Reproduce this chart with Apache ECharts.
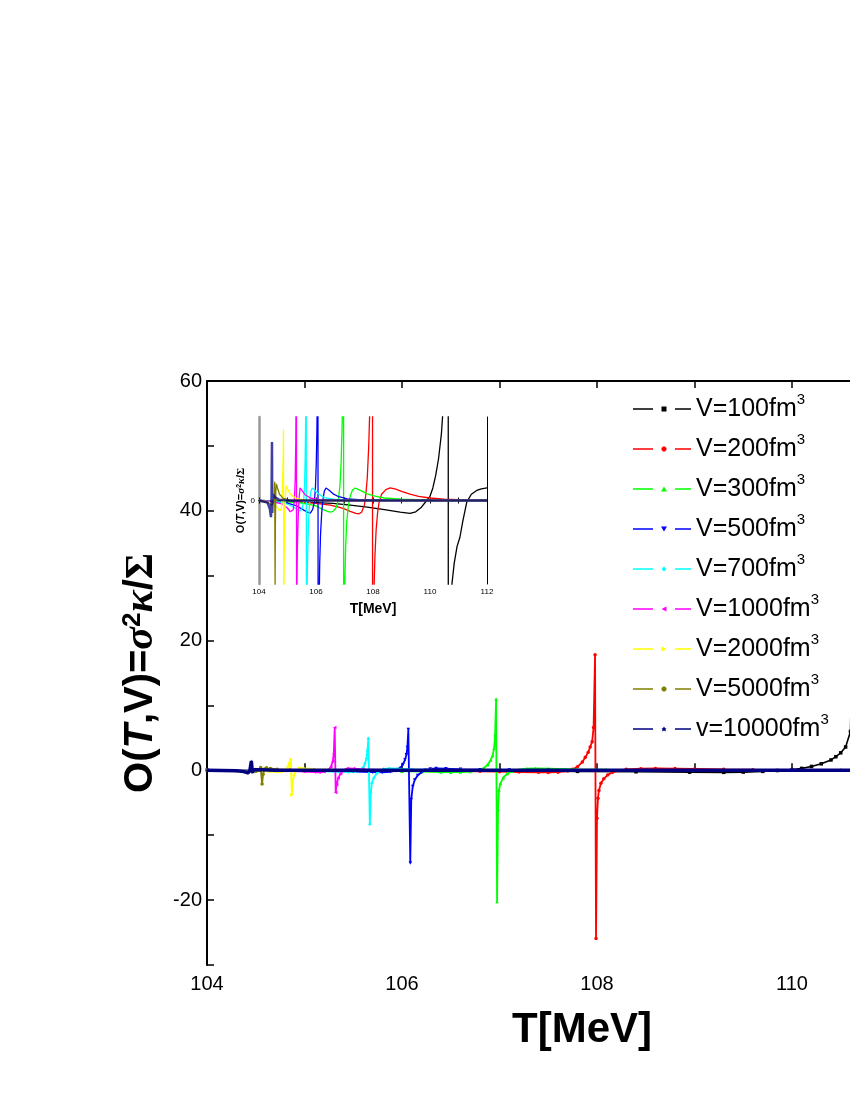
<!DOCTYPE html>
<html><head><meta charset="utf-8">
<script src="https://cdn.jsdelivr.net/npm/echarts@6/dist/echarts.min.js"></script>
<style>html,body{margin:0;padding:0;background:#fff}#c{width:850px;height:1100px}</style>
</head><body><div id="c"></div>
<script>
// ---- data: [T (MeV), O(T,V)] ----
const V100 = [[104.0,0],[104.5,-0.01],[105.0,-0.02],[105.5,-0.04],[106.0,-0.05],[106.6,-0.07],[107.2,-0.11],[107.8,-0.16],[108.4,-0.22],[108.95,-0.28],[109.3,-0.31],[109.5,-0.27],[109.7,-0.16],[109.85,-0.03],[110.0,0.1],[110.1,0.3],[110.2,0.6],[110.3,1.0],[110.4,1.6],[110.45,2.1],[110.5,2.7],[110.55,3.6],[110.6,6.0],[110.63,30],[110.65,-25],[110.68,-8],[110.72,-3.5],[110.77,-2.0],[110.85,-1.5],[110.95,-1.1],[111.05,-0.88],[111.15,-0.5],[111.29,-0.04],[111.45,0.15],[111.64,0.24],[111.8,0.28],[112.0,0.3]];
const V200 = [[104.0,0],[104.5,-0.01],[105.0,-0.02],[105.5,-0.04],[106.0,-0.07],[106.5,-0.11],[106.8,-0.16],[107.0,-0.2],[107.2,-0.26],[107.4,-0.31],[107.5,-0.32],[107.6,-0.28],[107.7,-0.1],[107.75,0.15],[107.8,0.55],[107.85,1.3],[107.88,2.0],[107.91,2.8],[107.93,3.6],[107.95,4.4],[107.965,6.6],[107.98,17.8],[107.99,-25.9],[108.0,-7.4],[108.01,-4.3],[108.02,-3.1],[108.04,-2.0],[108.07,-1.3],[108.11,-0.7],[108.16,-0.3],[108.21,-0.05],[108.3,0.15],[108.45,0.26],[108.6,0.3],[108.8,0.27],[109.0,0.22],[109.3,0.15],[109.6,0.1],[110.0,0.06],[110.5,0.03],[111.0,0.02],[111.5,0.01],[112.0,0.01]];
const V300 = [[104.0,0],[104.5,-0.01],[105.0,-0.03],[105.5,-0.06],[105.8,-0.1],[106.0,-0.13],[106.2,-0.2],[106.4,-0.26],[106.5,-0.28],[106.6,-0.26],[106.7,-0.18],[106.78,0.0],[106.84,0.35],[106.88,0.9],[106.91,1.6],[106.93,2.3],[106.945,3.4],[106.955,5.5],[106.965,11.0],[106.975,-20.2],[106.985,-6.0],[106.995,-3.0],[107.01,-2.0],[107.04,-1.1],[107.08,-0.5],[107.13,-0.15],[107.2,0.1],[107.28,0.25],[107.37,0.3],[107.5,0.26],[107.8,0.16],[108.1,0.1],[108.4,0.06],[109.0,0.03],[109.5,0.02],[110.0,0.01],[111.0,0],[112.0,0]];
const V500 = [[104.0,0],[104.5,-0.02],[105.0,-0.06],[105.3,-0.12],[105.5,-0.2],[105.7,-0.28],[105.8,-0.3],[105.88,-0.22],[105.94,-0.05],[105.98,0.3],[106.01,0.9],[106.03,1.6],[106.045,2.4],[106.055,3.5],[106.065,6.3],[106.085,-14.3],[106.095,-4.5],[106.11,-2.5],[106.13,-1.5],[106.16,-0.8],[106.2,-0.3],[106.24,0.0],[106.29,0.22],[106.35,0.3],[106.45,0.25],[106.6,0.16],[106.8,0.09],[107.1,0.04],[107.5,0.02],[108.5,0.01],[110.0,0],[112.0,0]];
const V700 = [[104.0,0],[104.5,-0.02],[104.9,-0.06],[105.2,-0.15],[105.35,-0.22],[105.45,-0.25],[105.52,-0.18],[105.57,0.0],[105.6,0.4],[105.62,1.0],[105.635,1.8],[105.645,3.0],[105.655,4.9],[105.67,-8.3],[105.68,-3.5],[105.69,-2.0],[105.71,-1.2],[105.74,-0.5],[105.77,-0.1],[105.81,0.2],[105.87,0.3],[105.95,0.25],[106.1,0.15],[106.3,0.07],[106.6,0.03],[107.0,0.01],[108.0,0],[110.0,0],[112.0,0]];
const V1000 = [[104.0,0],[104.5,-0.03],[104.8,-0.08],[105.0,-0.18],[105.1,-0.27],[105.15,-0.3],[105.2,-0.22],[105.24,0.0],[105.27,0.5],[105.29,1.4],[105.3,2.5],[105.31,6.6],[105.32,-3.4],[105.33,-2.2],[105.345,-1.2],[105.37,-0.5],[105.4,0.0],[105.44,0.3],[105.5,0.25],[105.6,0.15],[105.8,0.06],[106.1,0.02],[107.0,0],[109.0,0],[112.0,0]];
const V2000 = [[104.0,0],[104.3,-0.03],[104.5,-0.08],[104.65,-0.18],[104.73,-0.25],[104.78,-0.2],[104.81,0.0],[104.835,0.6],[104.85,1.1],[104.86,1.7],[104.87,-3.8],[104.88,-1.6],[104.895,-0.7],[104.915,-0.1],[104.95,0.35],[105.0,0.28],[105.1,0.15],[105.3,0.05],[105.6,0.01],[106.0,0],[108.0,0],[112.0,0]];
const V5000 = [[104.0,0],[104.3,-0.05],[104.45,-0.12],[104.5,-0.15],[104.53,0.0],[104.55,0.45],[104.565,-2.1],[104.575,-0.6],[104.59,0.2],[104.61,0.4],[104.65,0.3],[104.72,0.15],[104.85,0.05],[105.1,0.01],[106.0,0],[108.0,0],[112.0,0]];
const V10000 = [[104.0,0],[104.3,-0.05],[104.38,-0.2],[104.42,-0.4],[104.44,0.0],[104.455,1.4],[104.465,-0.3],[104.48,0.1],[104.5,0.15],[104.55,0.08],[104.7,0.02],[105.0,0],[106.0,0],[108.0,0],[110.0,0],[112.0,0]];

const seriesNames = ['V=100','V=200','V=300','V=500','V=700','V=1000','V=2000','V=5000','v=10000'];
const seriesData = [V100, V200, V300, V500, V700, V1000, V2000, V5000, V10000];
const xTicksMain = [104, 112, 1];
const yTicksMain = [-30, 60, 10];
const yTicksInset = [-2, 2, 1];

// ---- styles ----
const FONT = 'Liberation Sans, Arial, Helvetica, sans-serif';
const STAR = 'path://M50,0 L61,35 L98,35 L68,57 L79,91 L50,70 L21,91 L32,57 L2,35 L39,35 Z';
const LEG_LINES = 'M0,1.7 L20,1.7 L20,3.3 L0,3.3 Z M42,1.7 L58,1.7 L58,3.3 L42,3.3 Z ';
const legMarks = [
  'M28.5,0 L33.5,0 L33.5,5 L28.5,5 Z',
  'M30,0 L32,0 L33.5,1.5 L33.5,3.5 L32,5 L30,5 L28.5,3.5 L28.5,1.5 Z',
  'M31,0 L34,5 L28,5 Z',
  'M28,0 L34,0 L31,5 Z',
  'M31,0 L33.5,2.5 L31,5 L28.5,2.5 Z',
  'M28.5,2.5 L33.5,0 L33.5,5 Z',
  'M28.5,0 L33.5,2.5 L28.5,5 Z',
  'M30,0 L32,0 L33.5,1.5 L33.5,3.5 L32,5 L30,5 L28.5,3.5 L28.5,1.5 Z',
  'M31,0 L32.1,1.8 L33.5,1.9 L32.5,3.1 L32.9,5 L31,4 L29.1,5 L29.5,3.1 L28.5,1.9 L29.9,1.8 Z'
];
const styles = [
  {color:'#000000', symbol:'rect', rot:0, w:1.6},
  {color:'#ff0000', symbol:'circle', rot:0, w:1.8},
  {color:'#00ff00', symbol:'triangle', rot:0, w:1.8},
  {color:'#0000ff', symbol:'triangle', rot:180, w:1.8},
  {color:'#00ffff', symbol:'diamond', rot:0, w:1.8},
  {color:'#ff00ff', symbol:'triangle', rot:90, w:1.8},
  {color:'#ffff00', symbol:'triangle', rot:-90, w:1.8},
  {color:'#808000', symbol:'circle', rot:0, w:1.8},
  {color:'#000080', symbol:STAR, rot:0, w:3.5}
];

const series = [];
seriesNames.forEach((n, i) => {
  const s = styles[i];
  series.push({
    type:'line', name:n, data:seriesData[i], xAxisIndex:0, yAxisIndex:0,
    symbol:s.symbol, symbolRotate:s.rot, symbolSize:3.5, showAllSymbol:true,
    lineStyle:{color:s.color, width:s.w}, itemStyle:{color:s.color},
    z: 2 + i, clip:true, silent:true
  });
});
seriesNames.forEach((n, i) => {
  const s = styles[i];
  series.push({
    type:'line', name:n, data:seriesData[i], xAxisIndex:2, yAxisIndex:1,
    showSymbol:false, symbol:'none',
    lineStyle:{color:s.color, width: i===8 ? 2.5 : 1.3, opacity: i===8 ? 0.75 : 1},
    itemStyle:{color:s.color}, z: 20 + i, clip:true, silent:true
  });
});

const legendData = seriesNames.map((n, i) => ({
  name:n, icon:'path://' + LEG_LINES + legMarks[i],
  itemStyle:{color:styles[i].color, borderWidth:0}
}));

const chart = echarts.init(document.getElementById('c'), null, {renderer:'canvas'});
chart.setOption({
  animation:false,
  backgroundColor:'#ffffff',
  textStyle:{fontFamily:FONT},
  grid:[
    {left:207, top:381, width:780, height:584, containLabel:false, outerBoundsMode:'none'},
    {left:259, top:417, width:228, height:167, containLabel:false, outerBoundsMode:'none', show:true, backgroundColor:'#ffffff', borderWidth:0}
  ],
  legend:{
    orient:'vertical', left:628, top:387, itemWidth:58, itemHeight:5, itemGap:10.5,
    data:legendData,
    formatter: n => '{n|' + n + 'fm}{s|3}',
    textStyle:{color:'#000', fontFamily:FONT, fontSize:25,
      rich:{ n:{fontSize:25, lineHeight:34, fontFamily:FONT, color:'#000'},
             s:{fontSize:15, lineHeight:15, verticalAlign:'top', fontFamily:FONT, color:'#000'} } },
    selectedMode:false
  },
  xAxis:[
    {gridIndex:0, type:'value', position:'bottom', min:xTicksMain[0], max:xTicksMain[1], interval:xTicksMain[2],
     axisLine:{lineStyle:{color:'#000', width:2}},
     axisTick:{inside:true, length:7, lineStyle:{color:'#000', width:1.5}},
     axisLabel:{formatter:v => (v % 2 === 0 ? String(v) : ''), fontSize:20, color:'#000', margin:9, fontFamily:FONT},
     splitLine:{show:false},
     name:'T[MeV]', nameLocation:'middle', nameGap:44,
     nameTextStyle:{fontSize:42, fontWeight:'bold', color:'#000', fontFamily:FONT, padding:[0,30,0,0]}},
    {gridIndex:0, type:'value', position:'top', min:xTicksMain[0], max:xTicksMain[1], interval:xTicksMain[2],
     axisLine:{lineStyle:{color:'#000', width:2}},
     axisTick:{inside:true, length:7, lineStyle:{color:'#000', width:1.5}},
     axisLabel:{show:false}, splitLine:{show:false}},
    {gridIndex:1, type:'value', position:'bottom', min:104, max:112, interval:1,
     axisLine:{lineStyle:{color:'#000', width:1}},
     axisTick:{inside:true, length:3, lineStyle:{color:'#000', width:1}},
     axisLabel:{formatter:v => (v % 2 === 0 ? String(v) : ''), fontSize:8, color:'#000', margin:4, fontFamily:FONT},
     splitLine:{show:false},
     name:'T[MeV]', nameLocation:'middle', nameGap:18,
     nameTextStyle:{fontSize:14, fontWeight:'bold', color:'#000', fontFamily:FONT}},
    {gridIndex:1, type:'value', position:'top', min:104, max:112, interval:1,
     axisLine:{lineStyle:{color:'#000', width:1}},
     axisTick:{inside:true, length:3, lineStyle:{color:'#000', width:1}},
     axisLabel:{show:false}, splitLine:{show:false}}
  ],
  yAxis:[
    {gridIndex:0, type:'value', position:'left', min:yTicksMain[0], max:yTicksMain[1], interval:yTicksMain[2],
     axisLine:{lineStyle:{color:'#000', width:2}},
     axisTick:{inside:true, length:7, lineStyle:{color:'#000', width:1.5}},
     axisLabel:{formatter:v => (v % 20 === 0 ? String(v) : ''), fontSize:20, color:'#000', margin:5, fontFamily:FONT},
     splitLine:{show:false},
     name:'O({it|T},V)={g|σ}{sup|2}{g|κ}/{G|Σ}', nameLocation:'middle', nameRotate:90, nameGap:44,
     nameTextStyle:{fontSize:40, fontWeight:'bold', color:'#000', fontFamily:FONT,
       rich:{ it:{fontSize:40, fontWeight:'bold', fontStyle:'italic', fontFamily:FONT, color:'#000'},
              g:{fontSize:42, fontStyle:'italic', fontFamily:'Liberation Serif, DejaVu Serif, serif', color:'#000'},
              G:{fontSize:40, fontWeight:'bold', fontFamily:'Liberation Serif, DejaVu Serif, serif', color:'#000'},
              sup:{fontSize:26, fontWeight:'bold', verticalAlign:'top', fontFamily:FONT, color:'#000'} } }},
    {gridIndex:1, type:'value', position:'left', min:yTicksInset[0], max:yTicksInset[1], interval:yTicksInset[2],
     axisLine:{lineStyle:{color:'#999999', width:2.5}},
     axisTick:{show:false},
     axisLabel:{formatter:v => (v === 0 ? '0' : ''), fontSize:8, color:'#000', margin:4, fontFamily:FONT},
     splitLine:{show:false},
     name:'O({it|T},V)={g|σ}{sup|2}{g|κ}/{G|Σ}', nameLocation:'middle', nameRotate:90, nameGap:9,
     nameTextStyle:{fontSize:11, fontWeight:'bold', color:'#000', fontFamily:FONT,
       rich:{ it:{fontSize:11, fontWeight:'bold', fontStyle:'italic', fontFamily:FONT, color:'#000'},
              g:{fontSize:11, fontStyle:'italic', fontFamily:'Liberation Serif, DejaVu Serif, serif', color:'#000'},
              G:{fontSize:11, fontWeight:'bold', fontFamily:'Liberation Serif, DejaVu Serif, serif', color:'#000'},
              sup:{fontSize:7, fontWeight:'bold', verticalAlign:'top', fontFamily:FONT, color:'#000'} } }},
    {gridIndex:1, type:'value', position:'right', min:yTicksInset[0], max:yTicksInset[1], interval:yTicksInset[2],
     axisLine:{lineStyle:{color:'#000', width:1}}, axisTick:{show:false}, axisLabel:{show:false}, splitLine:{show:false}}
  ],
  series: series
});
</script></body></html>
